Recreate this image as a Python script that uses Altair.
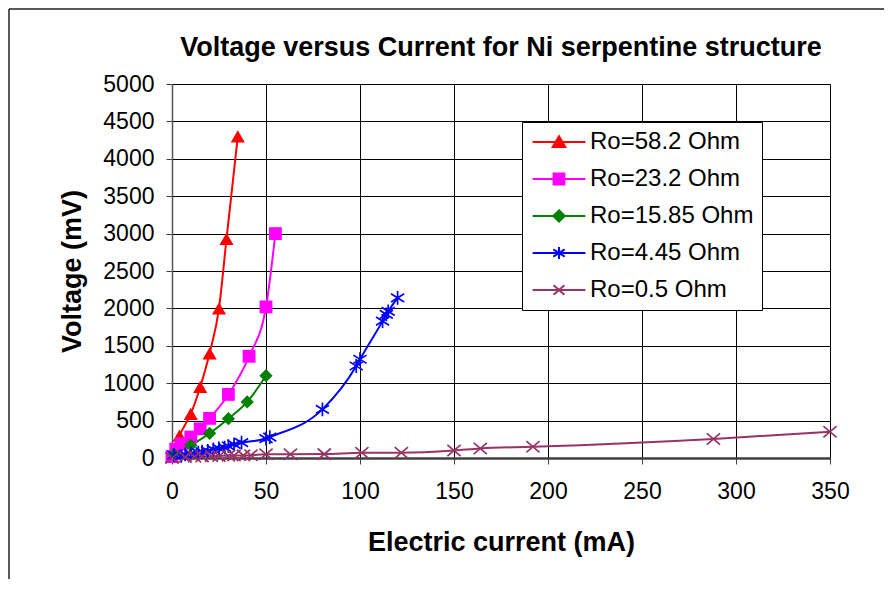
import altair as alt
import pandas as pd

# ---- data ----
series_names = ["Ro=58.2 Ohm", "Ro=23.2 Ohm", "Ro=15.85 Ohm", "Ro=4.45 Ohm", "Ro=0.5 Ohm"]
series_colors = ["#FF0000", "#FF00FF", "#008000", "#0000FF", "#993366"]

red_x = [0, 4, 10, 15, 20, 25, 29, 35]
red_y = [20, 300, 590, 950, 1400, 2000, 2930, 4300]

magenta_x = [0, 2, 5, 10, 15, 20, 30, 41, 50, 55]
magenta_y = [20, 120, 190, 280, 390, 530, 850, 1360, 2020, 3000]

green_x = [1, 10, 20, 30, 40, 50]
green_y = [50, 170, 330, 525, 750, 1100]

blue_x = [1, 5, 7, 10, 14, 16, 19, 22, 25, 28, 30, 33, 37, 50, 52, 80, 98, 100, 112, 114, 115, 120]
blue_y = [40, 27, 49, 58, 71, 85, 94, 116, 129, 138, 160, 182, 205, 260, 280, 650, 1230, 1320, 1830, 1920, 1960, 2140]

purple_x = [0, 7, 12, 16, 21, 25, 30, 33, 38, 42, 50, 63, 81, 101, 122, 150, 164, 192, 288, 350]
purple_y = [0, 12, 17, 20, 25, 28, 30, 33, 35, 38, 50, 50, 52, 70, 70, 100, 128, 150, 255, 350]

x_ticks = [0, 50, 100, 150, 200, 250, 300, 350]
y_ticks = [0, 500, 1000, 1500, 2000, 2500, 3000, 3500, 4000, 4500, 5000]

# ---- table ----
frames = []
for name, xs, ys in zip(series_names,
                        [red_x, magenta_x, green_x, blue_x, purple_x],
                        [red_y, magenta_y, green_y, blue_y, purple_y]):
    frames.append(pd.DataFrame({"current": xs, "voltage": ys, "series": name}))
df = pd.concat(frames, ignore_index=True)

FONT = "Liberation Sans, Arial, sans-serif"

STAR = "M0,-1V1M-0.95,-0.6L0.95,0.6M-0.95,0.6L0.95,-0.6"
XMARK = "M-1,-0.85L1,0.85M-1,0.85L1,-0.85"
marker_shapes = ["triangle-up", "square", "diamond", STAR, XMARK]
marker_filled = [True, True, True, False, False]
marker_sizes = [200, 165, 175, 190, 175]

# legend symbols: line segment + marker (custom paths)
legend_shapes = [
    "M-4.4,0H4.4M0,-0.95L1.05,0.85L-1.05,0.85Z",
    "M-4.4,0H4.4M-0.9,-0.9H0.9V0.9H-0.9Z",
    "M-4.4,0H4.4M0,-0.95L0.95,0L0,0.95L-0.95,0Z",
    "M-4.4,0H4.4M0,-1V1M-0.95,-0.6L0.95,0.6M-0.95,0.6L0.95,-0.6",
    "M-4.4,0H4.4M-0.9,-0.8L0.9,0.8M-0.9,0.8L0.9,-0.8",
]
legend_fills = series_colors[:3] + ["transparent", "transparent"]

leg = alt.Legend(
    title=None,
    orient="none",
    legendX=350,
    legendY=38,
    padding=8,
    strokeColor="black",
    fillColor="white",
    cornerRadius=0,
    labelFont=FONT,
    labelFontSize=24,
    labelColor="black",
    labelLimit=400,
    rowPadding=13,
    symbolSize=144,
    symbolOffset=17,
    labelOffset=19,
    symbolStrokeWidth=2,
    symbolOpacity=1,
)

xenc = alt.X(
    "current:Q",
    scale=alt.Scale(domain=[0, 350], nice=False),
    axis=alt.Axis(
        values=x_ticks, title="Electric current (mA)", grid=True,
        gridColor="black", gridWidth=1, domainColor="#404040", domainWidth=2.5,
        tickColor="#404040", tickSize=6, labelFontSize=23, labelPadding=16,
        labelFlush=False, labelFont=FONT, labelColor="black",
        titleFont=FONT, titleFontSize=27, titleFontWeight="bold",
        titleColor="black", titlePadding=26,
    ),
)
yenc = alt.Y(
    "voltage:Q",
    scale=alt.Scale(domain=[0, 5000], nice=False),
    axis=alt.Axis(
        values=y_ticks, format="d", title="Voltage (mV)", grid=True,
        gridColor="black", gridWidth=1, domainColor="#555555", domainWidth=1.5,
        tickColor="#404040", tickSize=6, labelFontSize=23, labelPadding=12,
        labelFlush=False, labelFont=FONT, labelColor="black",
        titleFont=FONT, titleFontSize=27, titleFontWeight="bold",
        titleColor="black", titlePadding=16,
    ),
)
# colour scale for the drawn marks (domain listed in reverse order so that its
# disabled legend is kept apart from the legend built below)
color = alt.Color(
    "series:N",
    scale=alt.Scale(domain=series_names[::-1], range=series_colors[::-1]),
    legend=None,
)

base = alt.Chart(df)

lines = base.mark_line(interpolate="monotone", strokeWidth=2).encode(
    x=xenc, y=yenc, color=color, detail="series:N"
)

point_layers = []
for name, shp, filled, sz in zip(series_names, marker_shapes, marker_filled, marker_sizes):
    sub = base.transform_filter(alt.datum.series == name)
    if filled:
        mk = sub.mark_point(shape=shp, filled=True, size=sz, opacity=1)
    else:
        mk = sub.mark_point(shape=shp, filled=False, size=sz, opacity=1, strokeWidth=1.7)
    point_layers.append(mk.encode(x=xenc, y=yenc, color=color))

# legend-only layer (draws no rows): fill/stroke/shape merge into one legend
legend_layer = base.transform_filter("datum.current < -1").mark_point(
    filled=True, size=144, opacity=1, strokeWidth=2
).encode(
    x=xenc, y=yenc,
    fill=alt.Fill("series:N", scale=alt.Scale(domain=series_names, range=legend_fills), legend=leg),
    stroke=alt.Stroke("series:N", scale=alt.Scale(domain=series_names, range=series_colors), legend=leg),
    shape=alt.Shape("series:N", scale=alt.Scale(domain=series_names, range=legend_shapes), legend=leg),
)

# outer chart-area frame (left and top edges)
one = pd.DataFrame({"k": [0]})
frame_left = alt.Chart(one).mark_rule(color="#222222", strokeWidth=1.5).encode(
    x=alt.value(-163), y=alt.value(-75), y2=alt.value(495)
)
frame_top = alt.Chart(one).mark_rule(color="#222222", strokeWidth=1.5).encode(
    x=alt.value(-163), x2=alt.value(712), y=alt.value(-75)
)

chart = alt.layer(frame_left, frame_top, lines, *point_layers, legend_layer).properties(
    width=658,
    height=374,
    padding=0,
    title=alt.TitleParams(
        text="Voltage versus Current for Ni serpentine structure",
        font=FONT, fontSize=27, fontWeight="bold", color="black",
        frame="group", anchor="middle", offset=0, baseline="alphabetic", dy=75,
    ),
).configure_view(strokeWidth=0).configure(background="white")

chart.save("out.html", embed_options={"renderer": "svg", "actions": False})
